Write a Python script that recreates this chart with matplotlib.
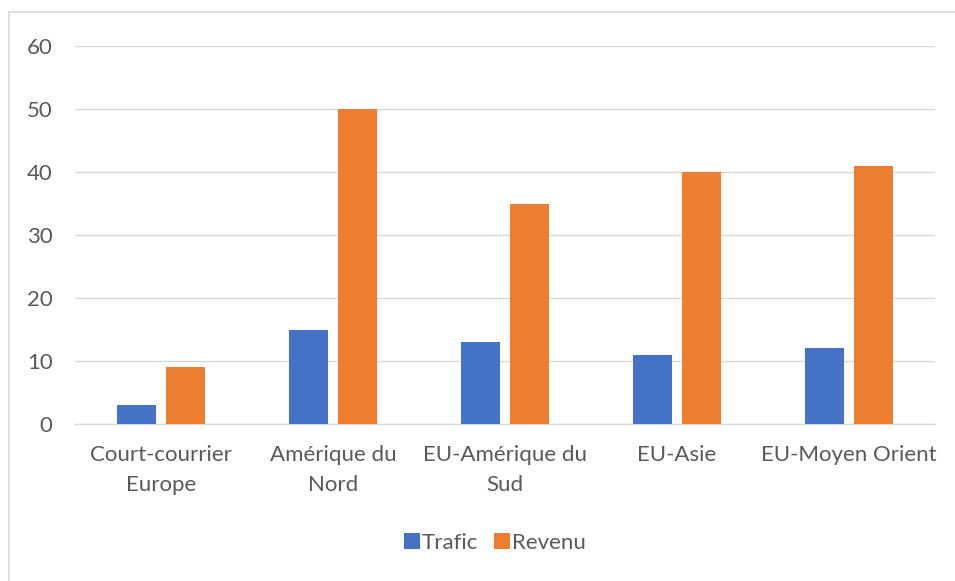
import numpy as np
import matplotlib.pyplot as plt
from matplotlib.patches import Rectangle

categories = ["Court-courrier\nEurope", "Amérique du\nNord", "EU-Amérique du\nSud", "EU-Asie", "EU-Moyen Orient"]
trafic = [3, 15, 13, 11, 12]
revenu = [9, 50, 35, 40, 41]
yticks = [0, 10, 20, 30, 40, 50, 60]

plt.rcParams['font.family'] = ['Lato', 'DejaVu Sans']
txt = '#595959'

fig = plt.figure(figsize=(9.55, 5.81), dpi=100)
ax = fig.add_axes([0.0785, 0.2702, 0.9005, 0.6506])

x = np.arange(len(categories))
w = 0.227
ax.bar(x - 0.142, trafic, w, color='#4472C4', label='Trafic', zorder=3)
ax.bar(x + 0.142, revenu, w, color='#ED7D31', label='Revenu', zorder=3)

ax.set_xlim(-0.5, len(categories) - 0.5)
ax.set_ylim(0, 60)
ax.set_yticks(yticks)
ax.yaxis.grid(True, color='#d9d9d9', linewidth=1, zorder=0)
ax.set_xticks(x)
ax.set_xticklabels(categories, fontsize=16, color=txt, linespacing=1.62)
ax.tick_params(axis='y', labelsize=16, labelcolor=txt, length=0, pad=16)
ax.tick_params(axis='x', length=0, pad=15)
for s in ['top', 'right', 'left']:
    ax.spines[s].set_visible(False)
ax.spines['bottom'].set_color('#d9d9d9')
ax.spines['bottom'].set_linewidth(1)

leg = fig.legend(loc='center', bbox_to_anchor=(495 / 955, 1 - 543 / 581), ncol=2, frameon=False,
                 fontsize=16, handlelength=0.7, handleheight=0.7, handletextpad=0.1, columnspacing=0.7)
for t in leg.get_texts():
    t.set_color(txt)

# chart border, only left and top show in the picture
fig.patches.append(Rectangle((9 / 955, -0.05), 1.0, 1.05 - 12 / 581, transform=fig.transFigure,
                             fill=False, edgecolor='#d9d9d9', linewidth=1.2))

fig.savefig('out.png', dpi=100)
